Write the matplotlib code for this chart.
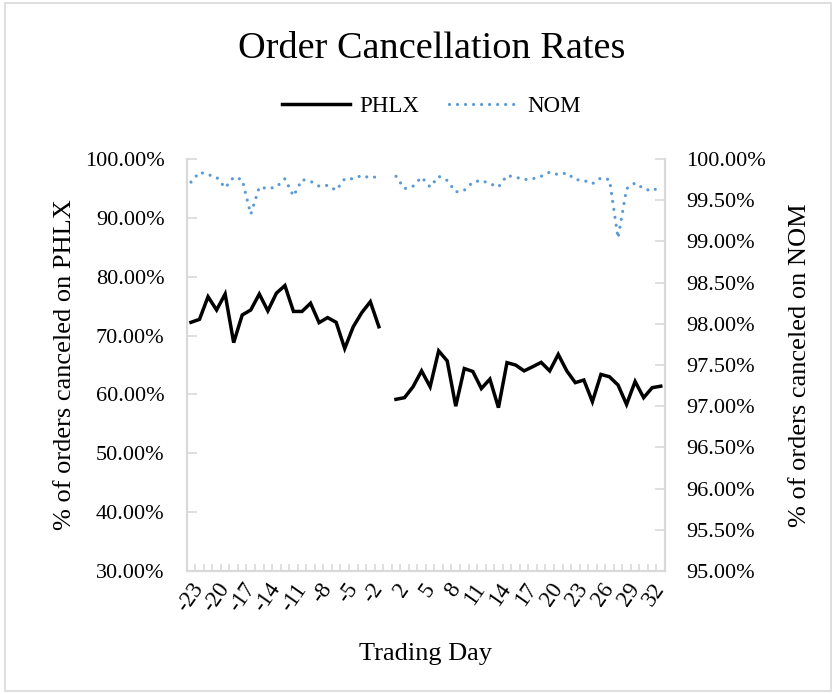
import numpy as np
import matplotlib
matplotlib.use("Agg")
import matplotlib.pyplot as plt
from matplotlib.patches import Rectangle

plt.rcParams["font.family"] = ["Liberation Serif", "DejaVu Serif"]

# trading days around the event (no day 0)
days = list(range(-23, 0)) + list(range(1, 34))

# % of orders canceled on PHLX (day 1 missing)
phlx = [72.25, 72.76, 76.6, 74.35, 77.06, 68.8, 73.5, 74.35, 77.06, 74.2,
        77.2, 78.5, 74.1, 74.1, 75.5, 72.2, 73.05, 72.25, 67.8, 71.5,
        73.9, 75.75, 71.5,
        None,
        59.17, 59.45, 61.3, 64.0, 61.3, 67.4, 65.7, 58.0, 64.4, 63.9,
        61.0, 62.6, 57.75, 65.4, 65.0, 64.0, 64.7, 65.45, 64.0, 66.8,
        64.0, 62.0, 62.45, 58.77, 63.4, 63.0, 61.6, 58.3, 62.2, 59.45,
        61.15, 61.4]

# % of orders canceled on NOM (day 1 missing)
nom = [99.72, 99.84, 99.81, 99.78, 99.65, 99.78, 99.75, 99.33, 99.66, 99.64,
       99.66, 99.76, 99.55, 99.75, 99.73, 99.67, 99.68, 99.62, 99.76, 99.76,
       99.80, 99.77, 99.79,
       None,
       99.79, 99.64, 99.67, 99.78, 99.66, 99.79, 99.74, 99.60, 99.62, 99.72,
       99.74, 99.70, 99.66, 99.80, 99.78, 99.75, 99.76, 99.79, 99.84, 99.81,
       99.83, 99.75, 99.74, 99.70, 99.77, 99.75, 99.04, 99.64, 99.71, 99.64,
       99.61, 99.67]

left_ticks = [30, 40, 50, 60, 70, 80, 90, 100]
right_ticks = [95.0, 95.5, 96.0, 96.5, 97.0, 97.5, 98.0, 98.5, 99.0, 99.5, 100.0]

x = np.arange(len(days))
phlx_y = np.array([np.nan if v is None else v for v in phlx])
nom_y = np.array([np.nan if v is None else v for v in nom])

grey = "#D9D9D9"
fig = plt.figure(figsize=(8.36, 6.94), dpi=100)
ax = fig.add_axes([186.7 / 836, 1 - 571 / 694, (665 - 186.7) / 836, (571 - 159) / 694])
ax2 = ax.twinx()

l1, = ax.plot(x, phlx_y, color="black", lw=2.5, solid_joinstyle="miter", label="PHLX")
l2, = ax2.plot(x, nom_y, color="#5B9BD5", lw=2.3, linestyle=(0, (0.01, 2.5)),
               dash_capstyle="round", label="NOM")

ax.set_xlim(-0.5, len(days) - 0.5)
ax.set_ylim(30, 100)
ax2.set_ylim(95, 100)

ax.set_yticks(left_ticks)
ax.set_yticklabels(["%.2f%%" % v for v in left_ticks])
ax2.set_yticks(right_ticks)
ax2.set_yticklabels(["%.2f%%" % v for v in right_ticks])

# labels every 3rd day, tick marks between categories
ax.set_xticks(x[::3])
ax.set_xticklabels([str(d) for d in days[::3]], rotation=55, ha="right", va="top",
                   rotation_mode="anchor")
ax.set_xticks(np.arange(-0.5, len(days)), minor=True)
ax.tick_params(axis="x", which="major", length=0, pad=6, labelsize=16.5)
ax.tick_params(axis="x", which="minor", direction="in", length=5, width=1.2, color=grey)
ax.tick_params(axis="y", direction="in", length=7, width=1.2, color=grey, pad=16, labelsize=16)
ax2.tick_params(axis="y", direction="in", length=7, width=1.2, color=grey, pad=15, labelsize=16)

for a in (ax, ax2):
    a.spines["top"].set_visible(False)
    for s in ("left", "right", "bottom"):
        a.spines[s].set_color(grey)
        a.spines[s].set_linewidth(1.5)

ax.set_xlabel("Trading Day", fontsize=19, labelpad=19)
ax.set_ylabel("% of orders canceled on PHLX", fontsize=19, labelpad=6)
ax2.set_ylabel("% of orders canceled on NOM", fontsize=19, labelpad=17)

fig.text(432 / 836, 1 - 49 / 694, "Order Cancellation Rates", fontsize=27.5,
         ha="center", va="center")
fig.legend(handles=[l1, l2], loc="center", bbox_to_anchor=(431 / 836, 1 - 106 / 694),
           ncol=2, frameon=False, fontsize=16.5, handlelength=3.0,
           handletextpad=0.4, columnspacing=1.3)

# chart area border
fig.patches.append(Rectangle((5 / 836, 3 / 694), 826 / 836, 688 / 694, fill=False,
                             edgecolor=grey, lw=1.2, transform=fig.transFigure))

fig.savefig("out.png", dpi=100)
